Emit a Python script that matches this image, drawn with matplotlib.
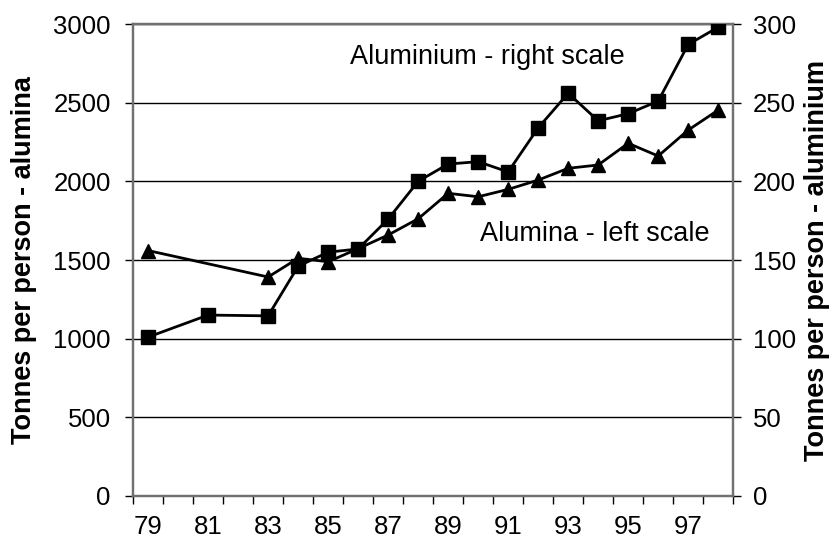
import matplotlib.pyplot as plt

plt.rcParams['font.family'] = ['Liberation Sans', 'DejaVu Sans']

# years 1979-1998, shown as two digits
years = list(range(79, 99))
# aluminium, tonnes per person (right scale), no data for 80 and 82
al_years = [79, 81, 83, 84, 85, 86, 87, 88, 89, 90, 91, 92, 93, 94, 95, 96, 97, 98]
aluminium = [101, 115, 114.5, 146, 155, 157, 176, 200, 211, 212.5, 206, 234, 256, 238.5, 243, 251, 287, 298]
# alumina, tonnes per person (left scale)
an_years = [79, 83, 84, 85, 86, 87, 88, 89, 90, 91, 92, 93, 94, 95, 96, 97, 98]
alumina = [1560, 1392, 1511, 1489, 1572, 1659, 1762, 1924, 1902, 1949, 2008, 2083, 2104, 2242, 2161, 2326, 2453]

label_years = [str(y) for y in years[::2]]

fig = plt.figure(figsize=(8.37, 5.46), dpi=100)
ax = fig.add_axes([0.159, 0.0916, 0.717, 0.8644])
ax2 = ax.twinx()

def pos(yrs):
	return [y - years[0] for y in yrs]

ax.plot(pos(an_years), alumina, color='black', lw=2, marker='^',
		markersize=10, zorder=3)
ax2.plot(pos(al_years), aluminium, color='black', lw=2, marker='s',
		 markersize=10, zorder=3)

ax.set_xlim(-0.5, len(years) - 0.5)
ax.set_ylim(0, 3000)
ax2.set_ylim(0, 300)
ax.set_yticks(range(0, 3001, 500))
ax2.set_yticks(range(0, 301, 50))

# category axis: ticks between categories, labels every second year
ax.set_xticks([i - 0.5 for i in range(len(years) + 1)])
ax.set_xticklabels([])
ax.set_xticks(list(range(0, len(years), 2)), minor=True)
ax.set_xticklabels(label_years, minor=True)
ax.tick_params(axis='x', which='major', length=6, width=1, direction='out')
ax.tick_params(axis='x', which='minor', length=0, pad=14, labelsize=18.5)
ax.tick_params(axis='y', length=6, width=1, direction='out', labelsize=18.5, pad=10)
ax2.tick_params(axis='y', length=6, width=1, direction='out', labelsize=18.5, pad=8)

ax.grid(axis='y', color='black', lw=1)
ax.set_axisbelow(True)

for a in (ax, ax2):
	for side in ('top', 'left', 'right', 'bottom'):
		a.spines[side].set_color('#707070')
		a.spines[side].set_linewidth(1.6)

ax.set_ylabel('Tonnes per person - alumina', fontsize=19.5, fontweight='bold', labelpad=12)
ax2.set_ylabel('Tonnes per person - aluminium', fontsize=19.5, fontweight='bold',
			   rotation=90, labelpad=6)

ax.text(11.3, 2790, 'Aluminium - right scale', fontsize=19.5, ha='center', va='center')
ax.text(14.9, 1665, 'Alumina - left scale', fontsize=19.5, ha='center', va='center')

fig.savefig('out.png', dpi=100)
